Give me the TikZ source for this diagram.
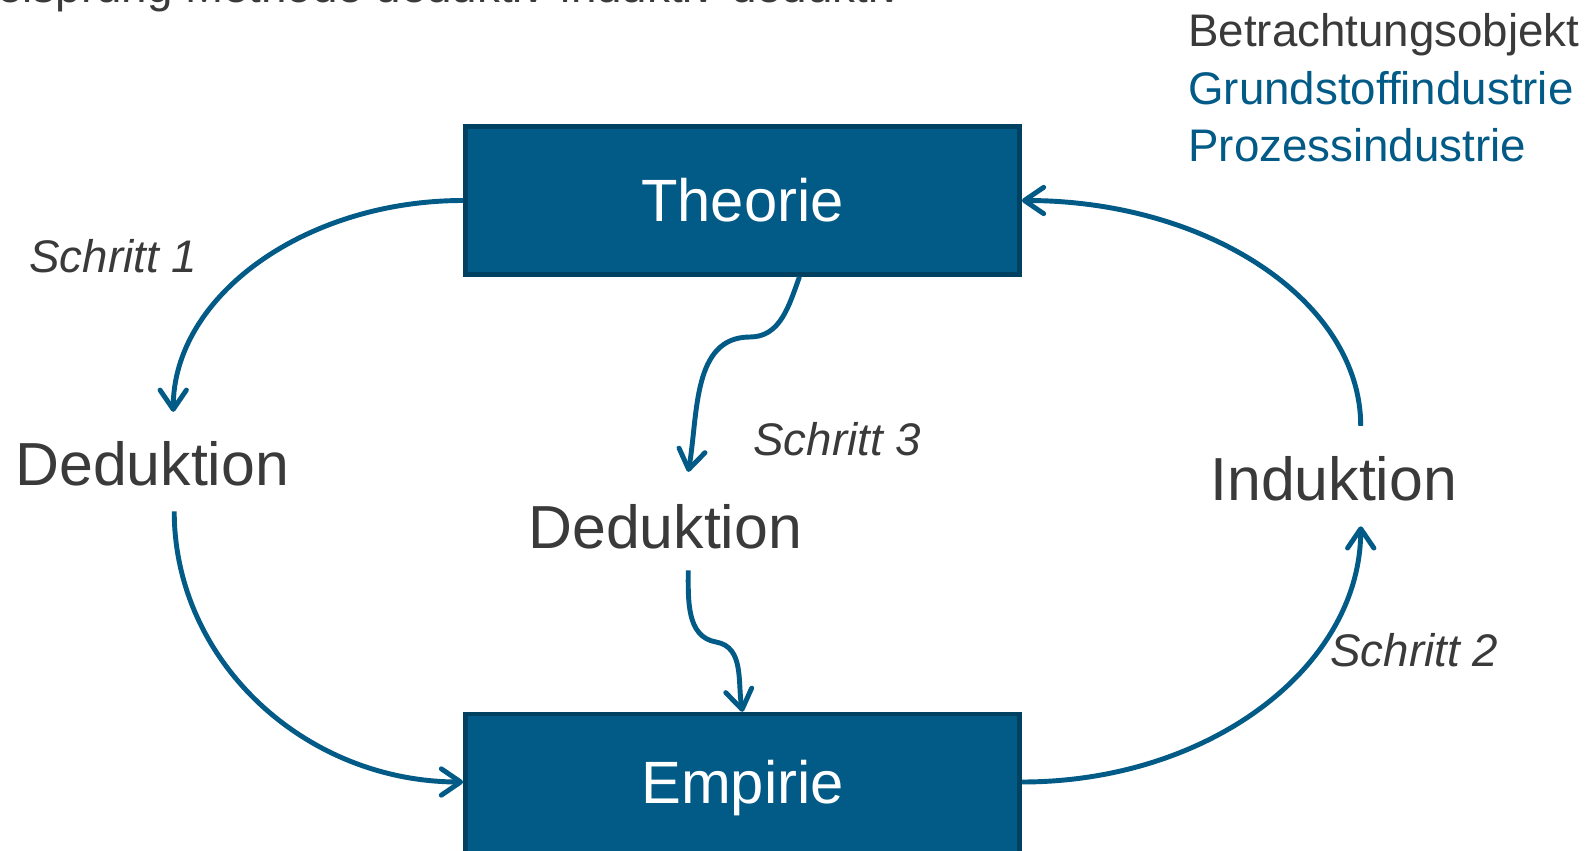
\documentclass[tikz,border=0pt]{standalone}
\usepackage{fontspec}
\setmainfont{Liberation Sans}
\usetikzlibrary{arrows.meta,calc}
\definecolor{blu}{RGB}{2,90,135}
\definecolor{bord}{RGB}{0,64,97}
\definecolor{gry}{RGB}{58,58,58}
\tikzset{
 box/.style={draw=bord, fill=blu, line width=2.55pt, minimum width=315.5pt, minimum height=84.2pt, inner sep=0pt, text=white, font=\fontsize{34}{40}\selectfont},
 lbl/.style={text=gry, font=\fontsize{34.6}{40}\selectfont, inner xsep=0pt, inner ysep=15.9pt, text height=24.4pt, text depth=0pt, anchor=base west},
 stp/.style={text=gry, font=\fontsize{26}{31}\selectfont\itshape, inner sep=0pt, anchor=base west},
 hdr/.style={font=\fontsize{26}{31}\selectfont, inner sep=0pt, anchor=base west},
 arr/.style={draw=blu, line width=2.8pt, -{Straight Barb[length=11pt,width=15pt,round]}},
}
\begin{document}
\begin{tikzpicture}[x=0.02cm,y=-0.02cm]
\useasboundingbox (0,0) rectangle (1592,851);
\clip (0,0) rectangle (1592,851);
\fill[white] (0,0) rectangle (1592,851);
% title (cut off at top)
\node[hdr, text=gry] (title) at (-3,3) {eisprung Methode deduktiv-induktiv-deduktiv};
% top right
\node[hdr, text=gry] (bo) at (1188,47) {Betrachtungsobjekt};
\node[hdr, text=blu] (gi) at (1188,105) {Grundstoffindustrie};
\node[hdr, text=blu] (pi) at (1188,162) {Prozessindustrie};
% boxes
\node[box] (theo) at (742.5,200.5) {Theorie};
\node[box] (emp) at (742.5,788) {Empirie};
% labels
\node[lbl] (ded1) at (15,485) {Deduktion};
\node[lbl] (ded2) at (528,548) {Deduktion};
\node[lbl] (ind) at (1210,500) {Induktion};
\node[stp] (s1) at (29,273) {Schritt 1};
\node[stp] (s3) at (753,455) {Schritt 3};
\node[stp] (s2) at (1330,666) {Schritt 2};
\coordinate (k1) at (750,337);
\coordinate (k2) at (716,642);
% arrows
\draw[arr] (theo.west) .. controls +(-158,0) and +(0,-116) .. ($(ded1.north)+(21,-2)$);
\draw[arr] ($(ded1.south)+(22,-2)$) .. controls +(0,150) and +(-158,0) .. ($(emp.west)+(0,-6)$);
\draw[arr] ($(emp.east)+(0,-6)$) .. controls +(188,0) and +(0,140) .. ($(ind.south)+(27,-2)$);
\draw[arr] ($(ind.north)+(27,-3)$) .. controls +(0,-124) and +(187,0) .. (theo.east);
\draw[arr] ($(theo.south)+(57,0)$) to[out=-110,in=0] (k1) to[out=180,in=80] ($(ded2.north)+(23,-5)$);
\draw[arr] ($(ded2.south)+(23,-6)$) to[out=-90,in=170] (k2) to[out=-10,in=100] (emp.north);
\end{tikzpicture}
\end{document}
